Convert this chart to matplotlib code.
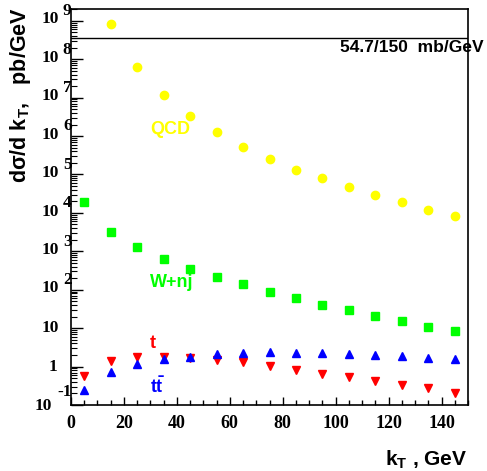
import numpy as np
import matplotlib
matplotlib.use("Agg")
import matplotlib.pyplot as plt
from matplotlib.ticker import LogLocator, NullFormatter, MultipleLocator

# ------- data -------
kt = [5, 15, 25, 35, 45, 55, 65, 75, 85, 95, 105, 115, 125, 135, 145]

qcd_kt = kt[1:]
qcd = [8.5e8, 6.1e7, 1.18e7, 3.4e6, 1.29e6, 5.2e5, 2.6e5, 1.32e5,
       7.9e4, 4.75e4, 2.89e4, 1.9e4, 1.22e4, 8.55e3]

wnj = [1.87e4, 3.1e3, 1.26e3, 622, 357, 221, 139, 87.7,
       61, 41, 29.3, 20.4, 15.1, 10.5, 8.3]

top = [0.56, 1.37, 1.78, 1.78, 1.71, 1.46, 1.29, 1.04,
       0.80, 0.63, 0.53, 0.42, 0.34, 0.27, 0.21]

ttbar = [0.25, 0.71, 1.17, 1.61, 1.78, 2.09, 2.26, 2.45,
         2.31, 2.31, 2.18, 2.05, 1.93, 1.71, 1.55]

sigma_tot_mb = 54.7     # total cross section, mb
kt_range = 150.0        # GeV
line_level = sigma_tot_mb * 1e9 / kt_range   # pb/GeV

x_ticks = [0, 20, 40, 60, 80, 100, 120, 140]
y_exps = list(range(-1, 10))

# ------- figure -------
plt.rcParams["mathtext.fontset"] = "custom"
plt.rcParams["mathtext.rm"] = "Liberation Sans:bold"
plt.rcParams["mathtext.bf"] = "Liberation Sans:bold"
plt.rcParams["mathtext.it"] = "Liberation Sans:bold"

W, H = 487, 471
fig = plt.figure(figsize=(W / 100, H / 100), dpi=100)
ax = fig.add_axes([71 / W, 1 - 405 / H, (468 - 71) / W, (405 - 9) / H])

ax.plot(qcd_kt, qcd, "o", color="#ffff00", ms=6.0, mec="#ffff00")
ax.plot(kt, wnj, "s", color="#00ff00", ms=5.4, mec="#00ff00")
ax.plot(kt, top, "v", color="#ff0000", ms=6.0, mec="#ff0000")
ax.plot(kt, ttbar, "^", color="#0000ff", ms=6.0, mec="#0000ff")
ax.axhline(line_level, color="black", lw=1.0)

ax.set_yscale("log")
ax.set_xlim(0, 150)
ax.set_ylim(0.1, 2.03e9)

for s in ax.spines.values():
    s.set_linewidth(1.2)

ax.xaxis.set_minor_locator(MultipleLocator(5))
ax.set_xticks(x_ticks)
ax.set_xticklabels([str(v) for v in x_ticks], fontfamily="Liberation Serif",
                   fontweight="bold", fontsize=13)
ax.tick_params(axis="x", which="major", direction="in", length=6, width=1.0, pad=7)
ax.tick_params(axis="x", which="minor", direction="in", length=3.5, width=1.0)

ax.yaxis.set_major_locator(LogLocator(base=10, numticks=20))
ax.yaxis.set_minor_locator(LogLocator(base=10, subs=np.arange(2, 10), numticks=20))
ax.yaxis.set_major_formatter(NullFormatter())
ax.yaxis.set_minor_formatter(NullFormatter())
ax.tick_params(axis="y", which="major", direction="in", length=8.5, width=1.0)
ax.tick_params(axis="y", which="minor", direction="in", length=4.3, width=0.8)

# ROOT-style "10 ^n" tick labels
tick_font = dict(fontfamily="Liberation Serif", fontweight="bold", fontsize=12.5,
                 xycoords=("axes fraction", "data"), textcoords="offset points",
                 va="center")
for e in y_exps:
    v = 10.0 ** e
    if e == 0:
        ax.annotate("1", (0, v), xytext=(-10, 0), ha="right", **tick_font)
    elif e == 1:
        ax.annotate("10", (0, v), xytext=(-8.5, 0), ha="right", **tick_font)
    elif e == -1:
        ax.annotate("10", (0, v), xytext=(-13.5, -1), ha="right", **tick_font)
        ax.annotate("-1", (0, v), xytext=(0.5, 9), ha="right", **tick_font)
    else:
        ax.annotate("10", (0, v), xytext=(-8.5, 1), ha="right", **tick_font)
        ax.annotate(str(e), (0, v), xytext=(0.5, 7), ha="right", **tick_font)

# series labels
lab = dict(fontfamily="Liberation Sans", fontweight="bold", fontsize=13)
ax.text(37.5, 1.51e6, "QCD", color="#ffff00", ha="center", va="center", **lab)
ax.text(38.2, 1.5e2, "W+nj", color="#00ff00", ha="center", va="center", **lab)
ax.text(30.9, 4.0, "t", color="#ff0000", ha="center", va="center", **lab)
ax.text(32.6, 0.31, r"$\mathrm{t\bar{t}}$", color="#0000ff", ha="center",
        va="center", **lab)

# normalisation text
fig.text(340 / W, 1 - 47 / H, "54.7/150  mb/GeV", ha="left", va="center",
         fontfamily="Liberation Sans", fontweight="bold", fontsize=12.5)

# axis titles
fig.text(21 / W, 1 - 7 / H, r"d$\sigma$/d k$_{T}$,   pb/GeV", rotation=90,
         ha="center", va="top", fontfamily="Liberation Sans", fontweight="bold",
         fontsize=15.5)
fig.text(467 / W, 1 - 460 / H, r"k$_{T}$ , GeV", ha="right", va="center",
         fontfamily="Liberation Sans", fontweight="bold", fontsize=15)

fig.savefig("out.png", dpi=100)
